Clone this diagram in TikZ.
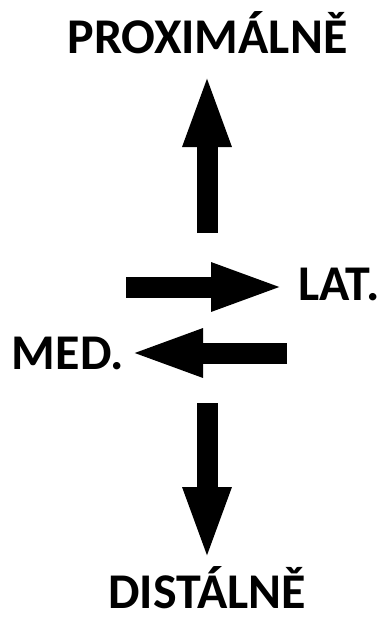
\documentclass[tikz,border=0pt]{standalone}
\usepackage{fontspec}
\setmainfont{Carlito}
\usepackage{tikz}
\usetikzlibrary{arrows.meta,positioning}
\definecolor{dirBlack}{HTML}{000000}
\tikzset{
  dir arrow/.style={-{Triangle[length=75pt, width=43pt]}, line width=21pt,
    draw=dirBlack},
  dir label/.style={font=\fontsize{50}{54}\selectfont\bfseries,
    text=dirBlack, inner sep=0pt, text depth=0pt}
}
\begin{document}
\begin{tikzpicture}[x=1pt, y=-1pt]
  \useasboundingbox (0,0) rectangle (385,621);
  \node[dir label, anchor=base] (prox) at (207.5,53) {PROXIMÁLNĚ};
  \node[dir label, anchor=base west] (lat) at (298,300) {LAT.};
  \node[dir label, anchor=base east] (med) at (124,369) {MED.};
  \node[dir label, anchor=base] (dist) at (207,608) {DISTÁLNĚ};
  \coordinate (upS) at (207,233);
  \coordinate (upT) at (207,72);
  \coordinate (latS) at (126,287);
  \coordinate (latT) at (286,287);
  \coordinate (medS) at (287,353);
  \coordinate (medT) at (128,353);
  \coordinate (dnS) at (207,403);
  \coordinate (dnT) at (207,562);
  \draw[dir arrow] (upS) -- (upT);
  \draw[dir arrow] (latS) -- (latT);
  \draw[dir arrow] (medS) -- (medT);
  \draw[dir arrow] (dnS) -- (dnT);
\end{tikzpicture}
\end{document}
